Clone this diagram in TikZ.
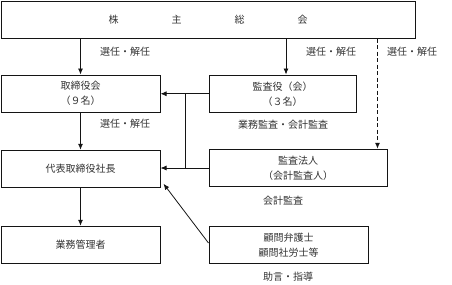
\documentclass[tikz,border=0pt]{standalone}
\usepackage{fontspec}
\newfontfamily\jpfont{Noto Sans CJK JP}
\usepackage{xcolor}
\definecolor{DarkGrey}{RGB}{51,51,51}
\definecolor{LineBlack}{RGB}{20,20,20}
\usepackage{tikz}
\usetikzlibrary{arrows.meta}
\tikzset{
  orgbox/.style={draw=LineBlack,line width=1pt,minimum height=37.5pt,inner sep=0pt,
    text=DarkGrey,font=\jpfont\fontsize{10}{15}\selectfont,align=center},
  flowlabel/.style={text=DarkGrey,font=\jpfont\fontsize{10}{12}\selectfont,inner sep=0pt},
  flowarrow/.style={LineBlack,line width=0.8pt,-{Latex[length=6pt,width=5pt]}},
}

\begin{document}
\begin{tikzpicture}[x=1pt,y=-1pt]
        \useasboundingbox (0,0) rectangle (452,284);
        % General meeting of shareholders
        \node[orgbox,minimum width=414pt,minimum height=37pt] (meeting) at (208,19.5)
            {株\hspace{53pt}主\hspace{53pt}総\hspace{53pt}会};
        % Left column
        \node[orgbox,minimum width=159pt] (board) at (80.5,93.75) {取締役会\\（９名）};
        \node[orgbox,minimum width=159pt] (president) at (80.5,169) {代表取締役社長};
        \node[orgbox,minimum width=159pt] (managers) at (80.5,245) {業務管理者};
        % Right column
        \node[orgbox,minimum width=147pt] (auditors) at (282.5,93.75) {監査役（会）\\（３名）};
        \node[orgbox,minimum width=178pt] (firm) at (298,168) {監査法人\\（会計監査人）};
        \node[orgbox,minimum width=159pt] (advisors) at (288.5,245) {顧問弁護士\\顧問社労士等};
        % Labels
        \node[flowlabel] (lbboard) at (125,52) {選任・解任};
        \node[flowlabel] (lbaudit) at (331,52) {選任・解任};
        \node[flowlabel] (lbfirm) at (412,52) {選任・解任};
        \node[flowlabel] (lbpres) at (125,124) {選任・解任};
        \node[flowlabel] (lbcheck) at (283,125) {業務監査・会計監査};
        \node[flowlabel] (lbaccount) at (283,201) {会計監査};
        \node[flowlabel] (lbadvice) at (288,277) {助言・指導};
        % Connectors
        \draw[flowarrow] (board.north |- meeting.south) -- (board.north);
        \draw[flowarrow] ([xshift=3.5pt]auditors.north |- meeting.south) -- ([xshift=3.5pt]auditors.north);
        \draw[flowarrow,line width=1pt,dash pattern=on 4pt off 2.5pt]
            ([xshift=-10pt]firm.north east |- meeting.south) -- ([xshift=-10pt]firm.north east);
        \draw[flowarrow] (board.south) -- (president.north);
        \draw[flowarrow] (president.south) -- (managers.north);
        \draw[flowarrow] (auditors.west) -- (board.east);
        \coordinate (junction) at (185,93.75);
        \draw[LineBlack,line width=0.8pt] (junction) -- (firm.west -| junction);
        \draw[flowarrow] (firm.west) -- (firm.west -| president.east);
        \draw[flowarrow] ([yshift=2pt]advisors.west) -- ([shift={(3pt,4.5pt)}]president.south east);
    \end{tikzpicture}
\end{document}
